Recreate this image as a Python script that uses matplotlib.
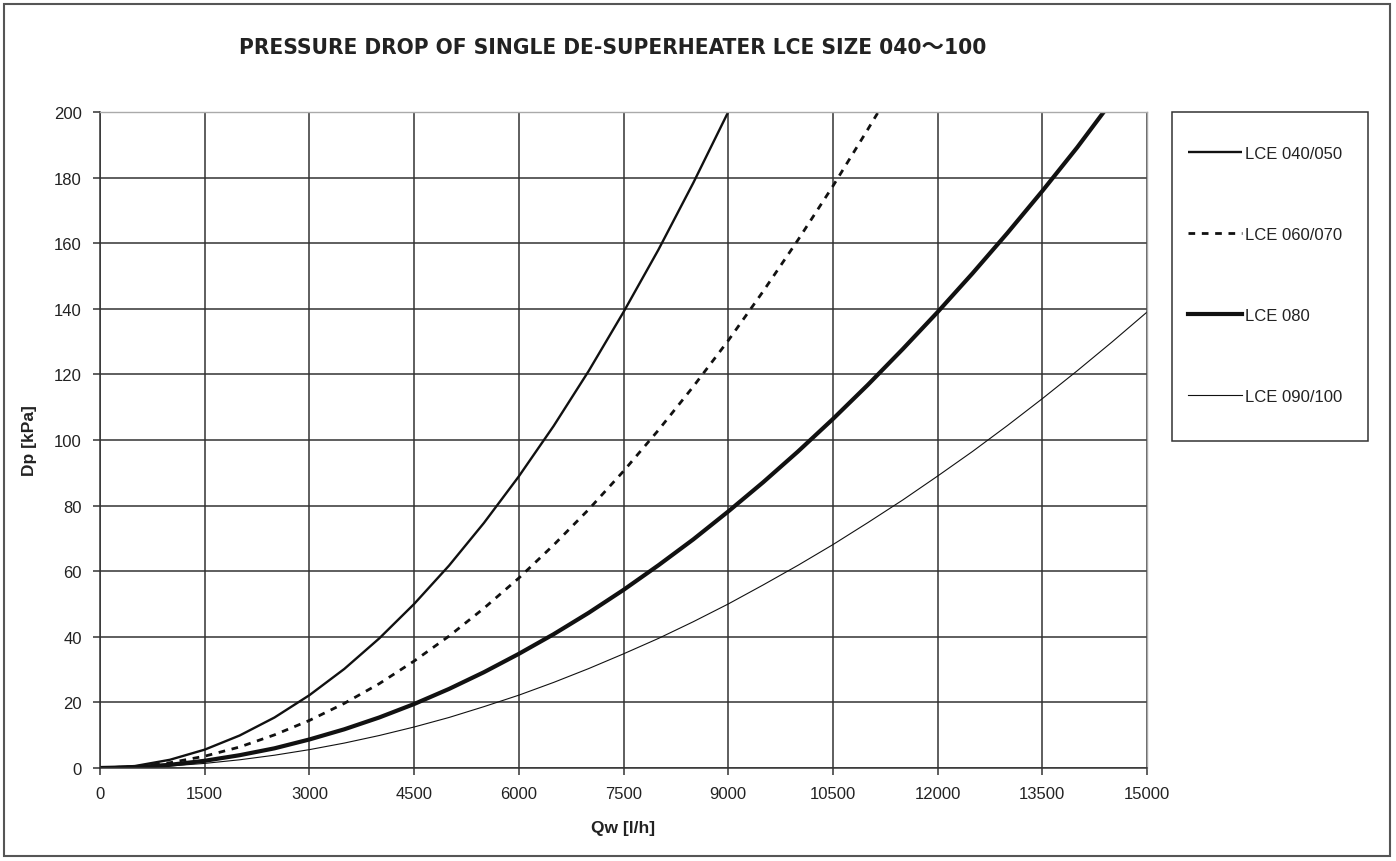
import matplotlib
matplotlib.use("Agg")
import matplotlib.pyplot as plt
from matplotlib.patches import Rectangle

# ---- data ----
x_040 = [0, 500, 1000, 1500, 2000, 2500, 3000, 3500, 4000, 4500, 5000, 5500,
         6000, 6500, 7000, 7500, 8000, 8500, 9000]
y_040 = [0, 0.6, 2.5, 5.6, 9.9, 15.4, 22.2, 30.2, 39.5, 50, 61.7, 74.7,
         88.9, 104.3, 121, 139, 158, 178.4, 200]

x_060 = [0, 500, 1000, 1500, 2000, 2500, 3000, 3500, 4000, 4500, 5000, 5500,
         6000, 6500, 7000, 7500, 8000, 8500, 9000, 9500, 10000, 10500, 11000, 11150]
y_060 = [0, 0.4, 1.6, 3.6, 6.4, 10.1, 14.5, 19.7, 25.7, 32.6, 40.2, 48.7,
         57.9, 68, 78.8, 90.5, 103, 116.3, 130.3, 145.3, 161, 177.4, 194.7, 200]

x_080 = [0, 500, 1000, 1500, 2000, 2500, 3000, 3500, 4000, 4500, 5000, 5500,
         6000, 6500, 7000, 7500, 8000, 8500, 9000, 9500, 10000, 10500, 11000,
         11500, 12000, 12500, 13000, 13500, 14000, 14380]
y_080 = [0, 0.24, 0.97, 2.2, 3.9, 6.0, 8.7, 11.8, 15.4, 19.5, 24.1, 29.2,
         34.8, 40.8, 47.3, 54.3, 61.8, 69.7, 78.2, 87.1, 96.5, 106.4, 116.8,
         127.7, 139, 150.8, 163.1, 175.9, 189.2, 200]

x_090 = [0, 500, 1000, 1500, 2000, 2500, 3000, 3500, 4000, 4500, 5000, 5500,
         6000, 6500, 7000, 7500, 8000, 8500, 9000, 9500, 10000, 10500, 11000,
         11500, 12000, 12500, 13000, 13500, 14000, 14500, 15000]
y_090 = [0, 0.15, 0.62, 1.4, 2.5, 3.9, 5.6, 7.6, 9.9, 12.5, 15.4, 18.7,
         22.2, 26.1, 30.3, 34.8, 39.5, 44.6, 50, 55.8, 61.8, 68.1, 74.8,
         81.7, 89, 96.5, 104.4, 112.6, 121.1, 129.9, 139]

labels = ["LCE 040/050", "LCE 060/070", "LCE 080", "LCE 090/100"]
x_ticks = [0, 1500, 3000, 4500, 6000, 7500, 9000, 10500, 12000, 13500, 15000]
y_ticks = [0, 20, 40, 60, 80, 100, 120, 140, 160, 180, 200]

title = "PRESSURE DROP OF SINGLE DE-SUPERHEATER LCE SIZE 040\uff5e100"

# ---- figure ----
W, H = 1396, 862
fig = plt.figure(figsize=(W / 100, H / 100), dpi=100)
plt.rcParams['font.family'] = ['Liberation Sans', 'DejaVu Sans']

# outer border
fig.patches.append(Rectangle((4 / W, 5 / H), (1390 - 4) / W, (857 - 5) / H,
                             transform=fig.transFigure, fill=False,
                             edgecolor='#555555', linewidth=1.5))

ax = fig.add_axes([100 / W, 1 - 769 / H, (1147 - 100) / W, (769 - 113) / H])

grid_c = '#333333'
l1, = ax.plot(x_040, y_040, color='#111111', lw=1.7, solid_capstyle='butt')
l2, = ax.plot(x_060, y_060, color='#111111', lw=2.0, linestyle=(0, (2.4, 2.4)))
l3, = ax.plot(x_080, y_080, color='#111111', lw=3.0)
l4, = ax.plot(x_090, y_090, color='#111111', lw=0.8)

ax.set_xlim(0, 15000)
ax.set_ylim(0, 200)
ax.set_xticks(x_ticks)
ax.set_yticks(y_ticks)
ax.set_xticklabels([str(t) for t in x_ticks])
ax.grid(True, color=grid_c, linewidth=1.1)
ax.set_axisbelow(True)
for s in ['top', 'right']:
    ax.spines[s].set_color('#aaaaaa')
    ax.spines[s].set_linewidth(1.0)
for s in ['left', 'bottom']:
    ax.spines[s].set_color(grid_c)
    ax.spines[s].set_linewidth(1.1)
ax.tick_params(axis='both', direction='out', length=5, width=1.1, color=grid_c,
               labelsize=12, labelcolor='#222222', pad=8)

ax.set_xlabel("Qw [l/h]", fontsize=12.5, fontweight='bold', color='#222222', labelpad=14)
ax.set_ylabel("Dp [kPa]", fontsize=12.5, fontweight='bold', color='#222222', labelpad=12)

fig.text(613 / W, 1 - 48 / H, title, ha='center', va='center', fontsize=16.2,
         fontweight='bold', color='#222222',
         family=['DejaVu Sans', 'Noto Sans CJK JP'], fontstretch='condensed')

# legend box
fig.patches.append(Rectangle((1172 / W, 1 - 442 / H), (1368 - 1172) / W, (442 - 113) / H,
                             transform=fig.transFigure, fill=False,
                             edgecolor='#333333', linewidth=1.1))
leg = fig.legend([l1, l2, l3, l4], labels, loc='upper left',
                 bbox_to_anchor=(1188 / W, 1 - 147 / H), frameon=False,
                 fontsize=12, handlelength=3.25, handletextpad=0.15,
                 labelspacing=3.96, borderpad=0, borderaxespad=0)
for t in leg.get_texts():
    t.set_color('#222222')

fig.savefig("out.png", dpi=100, facecolor='white')
